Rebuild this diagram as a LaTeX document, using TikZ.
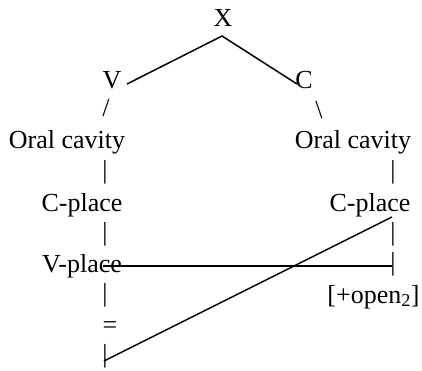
\documentclass[tikz,border=0pt]{standalone}
\usepackage{fontspec}
\setmainfont{Liberation Serif}
\begin{document}
\begin{tikzpicture}[x=1pt,y=-1pt,
  lbl/.style={inner sep=0pt,anchor=base,font=\fontsize{26}{30}\selectfont},
  barc/.style={inner sep=0pt,anchor=center,font=\fontsize{26}{30}\selectfont},
  conn/.style={line width=1.5pt,black}]
\useasboundingbox (0,0) rectangle (422,370);
% labels
\node[lbl] (X) at (223,26) {X};
\node[lbl] (V) at (112,88) {V};
\node[lbl] (C) at (304,88) {C};
\node[barc] (sl) at (106,108) {/};
\node[barc] (bsl) at (319,110) {\textbackslash};
\node[lbl] (ocL) at (67,148) {Oral cavity};
\node[lbl] (ocR) at (353,148) {Oral cavity};
\node[barc] (b1L) at (105,172) {|};
\node[barc] (b1R) at (393,172) {|};
\node[lbl] (cpL) at (82,211) {C-place};
\node[lbl] (cpR) at (370,211) {C-place};
\node[barc] (b2L) at (105,234.5) {|};
\node[barc] (b2R) at (393,234.5) {|};
\node[lbl] (vp) at (82,272) {V-place};
\node[barc] (b3R) at (393,264) {|};
\node[lbl] (op) at (373.5,303) {[+open\textsubscript{2}]};
\node[barc] (b3L) at (105,295) {|};
\node[barc] (eq) at (110,328) {=};
\node[barc] (b4L) at (105,356) {|};
% connector ends
\coordinate (xa) at (222,36);
\coordinate (va) at (127,84);
\coordinate (ca) at (297,84);
\coordinate (hl) at (103,266);
\coordinate (hr) at (392,266);
\coordinate (dl) at (104,361);
\coordinate (dr) at (392,217);
\draw[conn] (va) -- (xa) -- (ca);
\draw[conn] (hl) -- (hr);
\draw[conn] (dl) -- (dr);
\end{tikzpicture}
\end{document}
